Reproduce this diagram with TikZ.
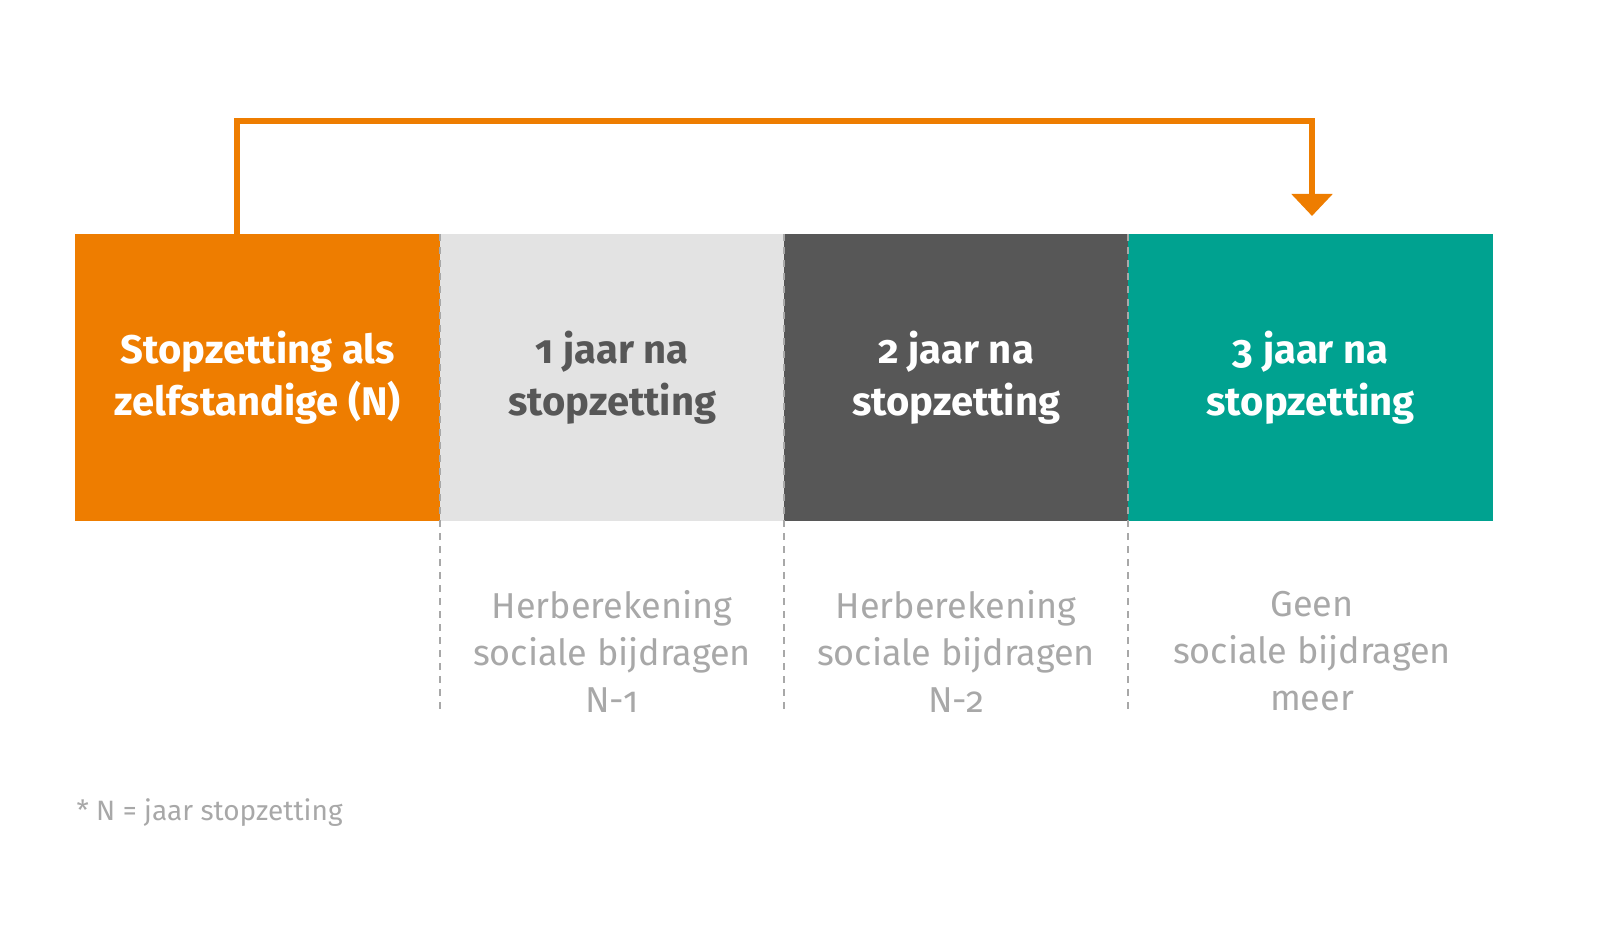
\documentclass[tikz,border=0pt]{standalone}
\usepackage{fontspec}
\setmainfont{Fira Sans}[Numbers=OldStyle]
\usetikzlibrary{arrows.meta}
\definecolor{org}{HTML}{EE7D00}
\definecolor{lgr}{HTML}{E3E3E3}
\definecolor{dgr}{HTML}{575757}
\definecolor{tea}{HTML}{00A290}
\definecolor{txg}{HTML}{A8A8A8}
\begin{document}
\begin{tikzpicture}[x=1pt,y=-1pt,
  box/.style={minimum width=#1,minimum height=287pt,inner sep=0pt,anchor=north west,align=center,font=\fontsize{40}{52}\selectfont\bfseries},
  sub/.style={align=center,text=txg,font=\fontsize{36}{47}\selectfont},
  sep/.style={draw=txg,dashed,line width=1.6pt,dash pattern=on 7pt off 6pt}]
\useasboundingbox (0,0) rectangle (1600,952);
\node[box=365pt,fill=org,text=white] (a) at (75,234) {Stopzetting als\\zelfstandige (N)};
\node[box=344pt,fill=lgr,text=dgr] (b) at (440,234) {1 jaar na\\stopzetting};
\node[box=344pt,fill=dgr,text=white] (c) at (784,234) {2 jaar na\\stopzetting};
\node[box=365pt,fill=tea,text=white] (d) at (1128,234) {3 jaar na\\stopzetting};
\foreach \x/\n in {440/p,784/q,1128/r}{
  \coordinate (\n1) at (\x,234); \coordinate (\n2) at (\x,712);
  \draw[sep] (\n1) -- (\n2);}
\node[sub] (s1) at (612,651) {Herberekening\\sociale bijdragen\\N-1};
\node[sub] (s2) at (956,651) {Herberekening\\sociale bijdragen\\N-2};
\node[sub] (s3) at (1312,651) {Geen\\sociale bijdragen\\meer};
\node[anchor=west,text=txg,font=\fontsize{28}{34}\selectfont] (f) at (73,813) {* N = jaar stopzetting};
\coordinate (t) at (1312,216);
\draw[org,line width=6pt,-{Triangle[width=40pt,length=22pt]}] (237,234) -- (237,121) -- (1312,121) -- (t);
\end{tikzpicture}
\end{document}
